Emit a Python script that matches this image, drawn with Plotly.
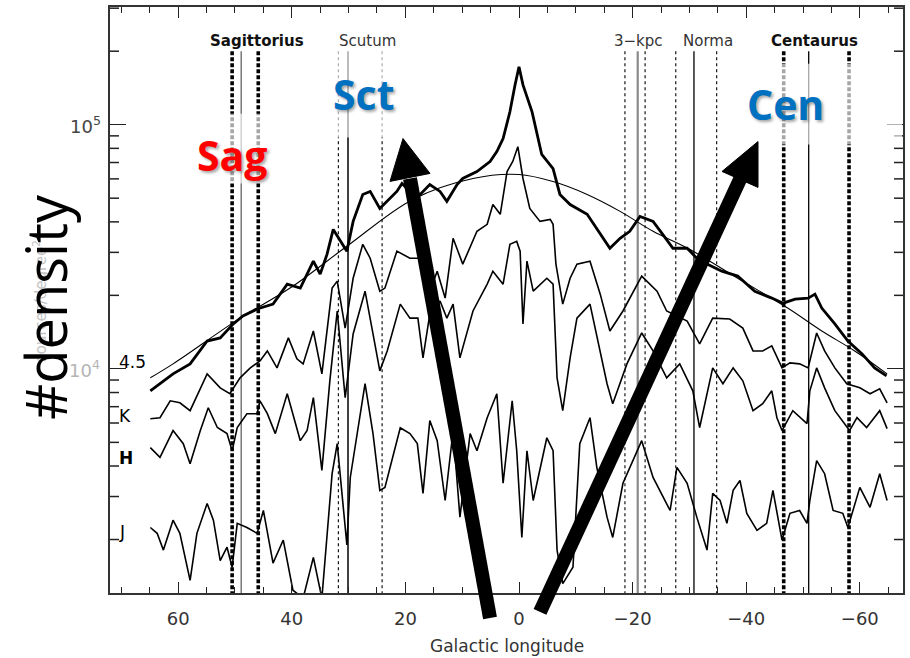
import plotly.graph_objects as go

# ---------------- data ----------------
l_45 = [64.9, 60.9, 57.9, 54.9, 52.6, 50.3, 48.6, 46.1, 43.3, 40.8, 38.5, 36.2, 35.0, 33.8, 32.7,
        30.3, 29.2, 27.5, 26.2, 24.5, 21.5, 20.6, 19.2, 17.4, 15.7, 13.9, 12.7, 10.9, 9.9, 7.4,
        5.1, 3.9, 2.8, 1.6, 0.7, 0.0, -0.7, -2.3, -4.0, -6.0, -7.2, -9.0, -12.0, -14.3, -16.0,
        -17.8, -19.5, -21.3, -23.6, -25.3, -27.1, -29.6, -31.3, -33.1, -35.7, -38.5, -41.5,
        -44.5, -46.5, -48.6, -50.9, -52.1, -53.3, -55.6, -57.9, -60.4, -62.6, -64.7]
n_45 = [8130, 9540, 10480, 13000, 13390, 15280, 16460, 17580, 18410, 22230, 21420, 27610, 24430,
        29440, 37240, 30340, 40180, 51780, 53290, 45400, 53290, 57450, 53290, 51780, 56860, 53290,
        48540, 56860, 60210, 64310, 70660, 77640, 87700, 112900, 145500, 172600, 145500, 112900,
        75500, 66070, 51780, 47100, 42950, 35560, 31190, 34270, 36590, 42070, 40180, 35560, 31190,
        31190, 28390, 26850, 25120, 23990, 20800, 19490, 18580, 19310, 19490, 20230, 17740, 15280,
        13000, 11510, 10090, 9360]

l_K = [64.9, 63.2, 61.4, 59.7, 57.9, 54.9, 52.6, 50.9, 49.1, 47.3, 45.6, 44.3, 42.6, 40.6, 39.1,
       38.0, 36.2, 34.7, 32.9, 32.0, 30.6, 29.2, 27.5, 26.2, 24.5, 23.6, 21.5, 19.2, 17.4, 15.7,
       14.4, 13.0, 11.6, 9.9, 7.4, 5.6, 4.6, 3.3, 2.1, 1.1, 0.2, -0.7, -1.9, -3.7, -5.5, -6.0,
       -6.5, -7.7, -9.0, -10.2, -12.5, -14.3, -16.0, -18.3, -21.6, -24.3, -26.0, -29.6, -31.8,
       -34.1, -37.1, -39.4, -41.2, -42.9, -44.5, -46.3, -47.7, -49.4, -50.9, -52.4, -53.8,
       -55.6, -57.7, -60.0, -61.8, -63.5, -64.8]
n_K = [6250, 6310, 7400, 7260, 6740, 9540, 8360, 7910, 9190, 10090, 10780, 11840, 10090, 13390,
       10990, 10480, 14290, 9540, 21420, 22870, 14690, 23500, 32360, 28390, 20800, 21420, 30340,
       28390, 28390, 20800, 25120, 19490, 34270, 26850, 36590, 39080, 47100, 42950, 64310, 70660,
       81280, 60210, 45400, 40180, 40930, 39080, 26850, 18410, 23500, 26850, 27610, 20230, 14290,
       17260, 23990, 20800, 17260, 15700, 12650, 16140, 16000, 14690, 11840, 11840, 12420, 10090,
       10580, 10480, 10090, 14030, 11840, 10090, 8690, 8360, 7910, 8280, 7260]

l_H = [64.9, 63.2, 60.9, 59.1, 57.9, 56.1, 54.7, 53.1, 51.4, 50.5, 49.6, 47.9, 46.1, 45.6, 44.3,
       42.9, 40.8, 39.8, 38.5, 37.3, 36.2, 34.7, 33.3, 32.0, 30.6, 29.2, 27.1, 25.7, 24.5, 23.2,
       20.9, 19.2, 17.8, 16.9, 15.7, 13.9, 12.7, 11.6, 10.4, 8.1, 5.6, 4.6, 2.8, 1.6, 0.4, -0.2,
       -0.7, -1.4, -2.5, -4.9, -6.0, -6.7, -7.7, -9.0, -10.2, -12.5, -14.3, -15.5, -16.5, -19.0,
       -21.6, -23.6, -26.0, -28.3, -30.6, -31.8, -34.1, -35.9, -37.7, -39.4, -41.2, -42.9, -44.5,
       -45.4, -46.3, -48.2, -50.7, -51.2, -52.4, -53.8, -55.6, -58.2, -59.5, -61.2, -63.5, -64.8]
n_H = [4760, 4340, 5590, 4940, 4090, 5590, 6930, 5750, 5430, 4620, 5750, 6550, 6550, 7400, 6550,
       5430, 7910, 6550, 5080, 5590, 7620, 3840, 8930, 17260, 7620, 13900, 20800, 13900, 9810,
       11840, 18410, 16140, 16140, 11090, 16750, 18970, 16140, 18410, 11090, 17260, 22230, 25120,
       22230, 32360, 33270, 30340, 15280, 27610, 20800, 23500, 22230, 9190, 6740, 11090, 16140,
       18410, 11840, 8690, 7200, 10480, 14030, 11840, 9190, 10480, 8130, 5750, 10090, 8690, 10090,
       8930, 6740, 7200, 8130, 6310, 5590, 6740, 5970, 8130, 10090, 8360, 6740, 5590, 6310, 5750,
       6740, 5690]

l_J = [64.9, 63.7, 62.6, 60.9, 59.7, 57.9, 56.7, 54.9, 53.8, 52.6, 51.4, 50.5, 49.6, 47.9, 46.1,
       45.0, 43.3, 41.5, 39.8, 38.0, 36.2, 34.7, 32.9, 32.0, 30.3, 29.7, 27.1, 25.7, 24.5, 23.6,
       20.9, 19.2, 17.9, 16.9, 15.7, 14.4, 13.0, 11.6, 10.4, 8.6, 7.4, 5.6, 3.9, 2.8, 1.2, 0.4,
       -0.5, -1.4, -2.5, -4.9, -6.0, -6.7, -7.7, -9.5, -10.7, -12.5, -13.7, -15.5, -16.5, -18.3,
       -21.6, -23.6, -26.6, -27.8, -29.6, -31.3, -33.1, -34.1, -35.4, -36.6, -37.7, -38.9, -40.1,
       -41.9, -43.6, -44.7, -46.3, -47.7, -49.4, -50.7, -51.2, -52.4, -53.8, -55.3, -57.0, -57.9,
       -60.0, -61.8, -63.5, -64.8]
n_J = [2240, 2120, 1810, 2400, 2120, 1360, 2120, 2810, 2400, 1640, 1860, 1540, 2330, 2240, 2120,
       2630, 1600, 1990, 1240, 1150, 1690, 1150, 3720, 4940, 1900, 3590, 8690, 5430, 3180, 3270,
       5740, 5430, 4940, 3090, 6140, 5080, 2890, 5590, 2470, 5430, 4620, 6310, 7910, 3400, 7400,
       4620, 2040, 4620, 2890, 5220, 4620, 1810, 1320, 1540, 4940, 6310, 3950, 2470, 2040, 3400,
       5080, 3590, 2630, 3950, 3400, 2470, 1810, 3090, 2890, 2330, 3180, 3490, 2560, 2180, 2330,
       3180, 1990, 2560, 2630, 2330, 2890, 4210, 3720, 2630, 2560, 2240, 3270, 2710, 3720, 2890]

l_model = [64.9, 60.9, 49.1, 40.3, 30.3, 18.7, 8.1, 0.0, -6.0, -12.0, -17.8, -23.6, -29.7, -38.5,
           -47.3, -53.3, -59.1, -64.8]
n_model = [9190, 10480, 16140, 21420, 31770, 49400, 60210, 62520, 58480, 51780, 44160, 36590,
           31190, 23500, 17740, 14290, 11840, 9540]

# spiral-arm tangent longitudes (deg): [dotted, solid, dotted]
arm_names = ["Sagittorius", "Scutum", "3−kpc", "Norma", "Centaurus"]
arm_label_l = [46.1, 26.7, -21.1, -33.3, -52.1]
arm_bold = [True, False, False, False, True]
sag_l = [50.5, 48.9, 45.9]
sct_l = [31.8, 30.1, 24.1]
kpc_l = [-18.65, -20.9, -22.2]
nor_l = [-27.6, -30.8, -34.8]
cen_l = [-46.6, -51.0, -58.1]
arm_top = 2.0e5
arm_bottom = 1.0e3

x_range = [72, -67.6]
x_ticks = [60, 40, 20, 0, -20, -40, -60]
x_ticktext = ["60", "40", "20", "0", "−20", "−40", "−60"]
y_major = [1e4, 1e5]
y_minor = [k * 10 ** e for e in (3, 4, 5) for k in range(2, 10)]
y_log_range = [3.082, 5.482]

# ---------------- figure ----------------
W, H = 910, 658
ML, MR, MT, MB = 110, 7, 5, 65
PW, PH = W - ML - MR, H - MT - MB


def px(x):
    return (x - ML) / PW


def py(y):
    return (H - MB - y) / PH


fig = go.Figure()

# arm tangent lines
thick_dot = dict(width=3.6, dash="4px,2px", color="black")
thin_dot = dict(width=1.1, dash="3px,3px", color="black")
arm_sets = [
    (sag_l, thick_dot, dict(width=1.5, color="#777777"), thick_dot),
    (sct_l, thin_dot, dict(width=1.5, color="black"), thin_dot),
    (kpc_l, thin_dot, dict(width=2.2, color="#8a8a8a"), thin_dot),
    (nor_l, thin_dot, dict(width=1.3, color="black"), thin_dot),
    (cen_l, thick_dot, dict(width=1.3, color="black"), thick_dot),
]
for ls, s1, s2, s3 in arm_sets:
    for lon, st in zip(ls, (s1, s2, s3)):
        fig.add_trace(go.Scatter(x=[lon, lon], y=[arm_top, arm_bottom], mode="lines",
                                 line=st, hoverinfo="skip", showlegend=False))

# model and data curves
fig.add_trace(go.Scatter(x=l_model, y=n_model, mode="lines",
                         line=dict(color="black", width=1.1, shape="spline", smoothing=1.0),
                         hoverinfo="skip", showlegend=False))
for lx, ny, w in [(l_J, n_J, 1.6), (l_H, n_H, 1.6), (l_K, n_K, 1.6), (l_45, n_45, 2.8)]:
    fig.add_trace(go.Scatter(x=lx, y=ny, mode="lines", line=dict(color="black", width=w),
                             hoverinfo="skip", showlegend=False))

# minor y ticks on both vertical axes (9 px long, pointing inwards)
deg_per_px = (x_range[0] - x_range[1]) / PW
tick_deg = 9 * deg_per_px
tx, ty = [], []
for v in y_minor:
    tx += [x_range[0], x_range[0] - tick_deg, None, x_range[1], x_range[1] + tick_deg, None]
    ty += [v, v, None, v, v, None]
fig.add_trace(go.Scatter(x=tx, y=ty, mode="lines", line=dict(color="#222222", width=1.5),
                         hoverinfo="skip", showlegend=False, connectgaps=False))

axis_font = dict(family="DejaVu Sans", size=18, color="#333333")

fig.update_layout(
    xaxis=dict(range=x_range, tickmode="array", tickvals=x_ticks, ticktext=x_ticktext,
               ticks="inside", ticklen=11, tickwidth=1.4, tickcolor="#222222",
               minor=dict(ticks="inside", ticklen=6, dtick=5, tick0=0, tickcolor="#222222",
                          tickwidth=1.3),
               showline=True, linecolor="#333333", linewidth=1.6, mirror="ticks",
               showgrid=False, zeroline=False, tickfont=axis_font, ticklabelstandoff=9),
    yaxis=dict(type="log", range=y_log_range, tickmode="array", tickvals=y_major,
               ticks="inside", ticklen=16, tickwidth=1.4, tickcolor="#222222",
               showticklabels=False, showline=True, linecolor="#333333", linewidth=1.6,
               mirror="ticks", showgrid=False, zeroline=False),
)

ann = []


def text(x, y, t, size, color="black", family="DejaVu Sans", xref="paper", yref="paper",
         xanchor="center", yanchor="middle", angle=0, shadow=None):
    f = dict(family=family, size=size, color=color)
    if shadow:
        f["shadow"] = shadow
    ann.append(dict(x=x, y=y, xref=xref, yref=yref, text=t, showarrow=False, xanchor=xanchor,
                    yanchor=yanchor, textangle=angle, font=f))


# y tick labels
text(px(103), 5, "10<sup>5</sup>", 18, "#444444", yref="y", xanchor="right")
text(px(102), 4, "10<sup>4</sup>", 18, "#b4b4b4", yref="y", xanchor="right")
# faded original axis title
text(px(40), py(300), "sources/degree<sup>2</sup>", 15, "#c4c4c4", angle=-90)
# x axis title
text(0.5, py(646), "Galactic longitude", 17, "#333333")
# arm labels
for name, lx, b in zip(arm_names, arm_label_l, arm_bold):
    text(lx, py(39), f"<b>{name}</b>" if b else name, 15, "#111111" if b else "#333333", xref="x")
# curve labels
for txt, yy in [("4.5", 361), ("K", 415), ("<b>H</b>", 458), ("J", 532)]:
    text(px(117), py(yy), txt, 17, "black", xanchor="left")

shadow = "2px 2px 3px rgba(0,0,0,0.35)"
text(px(232), py(154), "<b>Sag</b>", 41, "#ff0000", family="Open Sans", shadow=shadow)
text(px(363), py(92), "<b>Sct</b>", 41, "#0070c0", family="Open Sans", shadow=shadow)
text(px(785), py(102), "<b>Cen</b>", 41, "#0070c0", family="Open Sans", shadow=shadow)
text(px(45), py(306), "#density", 56, "black", family="Open Sans", angle=-90)

shapes = []
# semi-transparent label boxes
for (x0, y0, x1, y1) in [(186, 112, 282, 182), (325, 49, 402, 136), (740, 62, 902, 143)]:
    shapes.append(dict(type="rect", xref="paper", yref="paper", x0=px(x0), x1=px(x1),
                       y0=py(y1), y1=py(y0), fillcolor="rgba(255,255,255,0.65)",
                       line=dict(width=0), layer="above"))
# arrows (tail, base, tip, corner1, corner2) in pixels
arrows = [((490, 618), (410, 177), (403, 137), (430, 172), (390, 180)),
          ((540, 612), (740, 178), (758, 140), (758, 186), (722, 170))]
for tail, base, tip, c1, c2 in arrows:
    shapes.append(dict(type="line", xref="paper", yref="paper", x0=px(tail[0]), y0=py(tail[1]),
                       x1=px(base[0]), y1=py(base[1]), line=dict(color="black", width=14), layer="above"))
    path = (f"M {px(tip[0])},{py(tip[1])} L {px(c1[0])},{py(c1[1])} "
            f"L {px(c2[0])},{py(c2[1])} Z")
    shapes.append(dict(type="path", xref="paper", yref="paper", path=path, fillcolor="black",
                       line=dict(color="black", width=1), layer="above"))

fig.update_layout(width=W, height=H, margin=dict(l=ML, r=MR, t=MT, b=MB),
                  paper_bgcolor="white", plot_bgcolor="white", showlegend=False,
                  annotations=ann, shapes=shapes)

fig.write_html("out.html")
